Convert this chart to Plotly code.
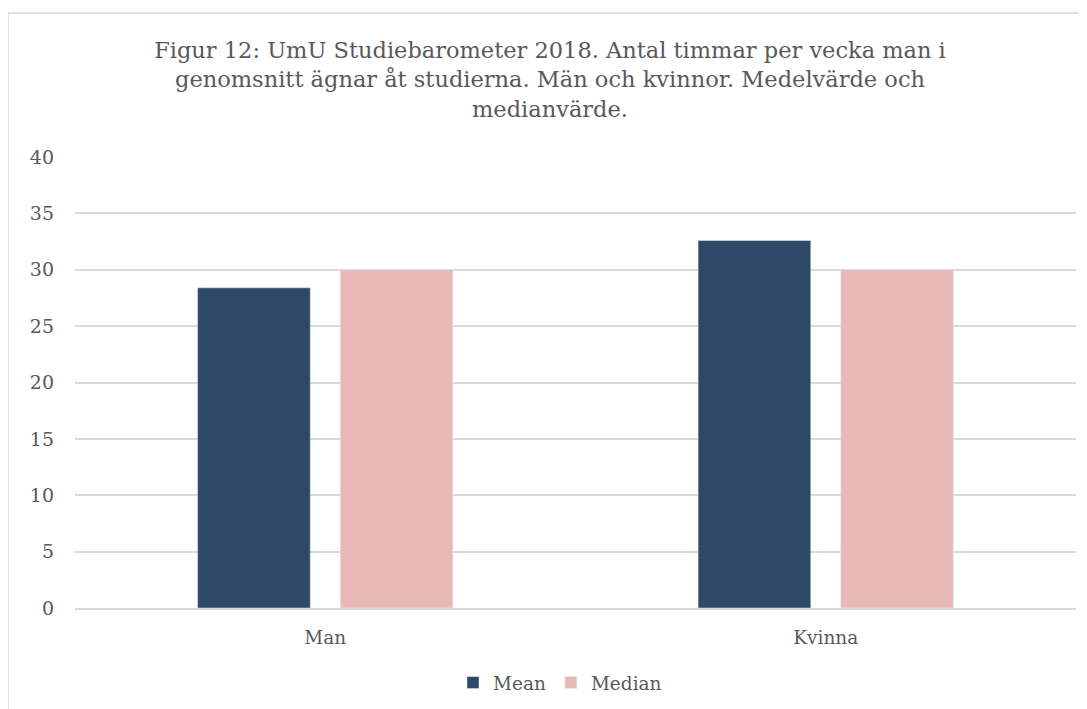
import plotly.graph_objects as go

categories = ["Man", "Kvinna"]
mean_values = [28.4, 32.6]
median_values = [30, 30]
y_ticks = [0, 5, 10, 15, 20, 25, 30, 35, 40]

FONT = "Georgia, 'DejaVu Serif', serif"
GRAY = "#595959"

# page body has an 8px margin; figure is offset accordingly
OFF = 8
W, H = 1087 - OFF, 709 - OFF
L, T = 75 - OFF, 157 - OFF
R = W - (1076 - OFF)
B = H - (608 - OFF)
pw, ph = W - L - R, H - T - B

def px(x):
    return (x - OFF - L) / pw

def py(y):
    return (H - B - (y - OFF)) / ph

fig = go.Figure()
fig.add_trace(go.Bar(name="Mean", x=categories, y=mean_values, marker_color="#2C4A67"))
fig.add_trace(go.Bar(name="Median", x=categories, y=median_values, marker_color="#E9B9B8"))

fig.update_layout(
    width=W, height=H,
    margin=dict(l=L, r=R, t=T, b=B, autoexpand=False),
    paper_bgcolor="white", plot_bgcolor="white",
    barmode="group", bargap=0.43, bargroupgap=0.21,
    font=dict(family=FONT, color=GRAY),
    title=dict(
        text="Figur 12: UmU Studiebarometer 2018. Antal timmar per vecka man i<br>genomsnitt ägnar åt studierna. Män och kvinnor. Medelvärde och<br>medianvärde.",
        x=(550 - OFF) / W, xanchor="center", y=1 - (58 - OFF) / H, yanchor="middle",
        font=dict(family=FONT, size=22.5, color=GRAY),
    ),
    xaxis=dict(showline=True, linecolor="#D9D9D9", linewidth=2, ticks="",
               ticklabelstandoff=12,
               tickfont=dict(size=18.5, color=GRAY), fixedrange=True),
    yaxis=dict(range=[0, 40], tickvals=y_ticks, showgrid=True, gridcolor="#D9D9D9",
               gridwidth=1.5, zeroline=False, ticks="", ticklabelstandoff=20,
               tickfont=dict(size=19, color=GRAY)),
    legend=dict(orientation="h", x=px(453), xanchor="left", y=py(683), yanchor="middle",
                font=dict(size=18.5, color=GRAY), traceorder="normal"),
    shapes=[dict(type="rect", xref="paper", yref="paper",
                 x0=px(8), x1=px(1200), y0=py(800), y1=py(13),
                 line=dict(color="#D9D9D9", width=1.5), layer="below")],
)

fig.write_html("out.html")
